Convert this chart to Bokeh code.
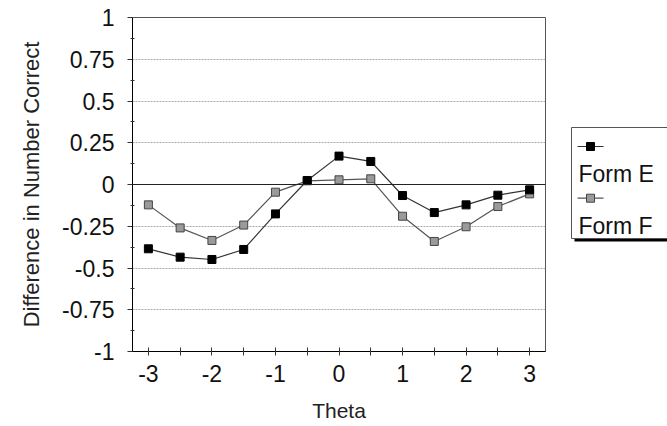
from bokeh.plotting import figure
from bokeh.models import FixedTicker, Range1d, Span, ColumnDataSource
from bokeh.layouts import row
from bokeh.embed import file_html
from bokeh.resources import INLINE
from bokeh.core.properties import value

# ---- data ----
theta = [-3.0, -2.5, -2.0, -1.5, -1.0, -0.5, 0.0, 0.5, 1.0, 1.5, 2.0, 2.5, 3.0]
form_e = [-0.385, -0.435, -0.449, -0.389, -0.176, 0.024, 0.170, 0.138, -0.066, -0.168, -0.122, -0.064, -0.032]
form_f = [-0.122, -0.260, -0.335, -0.243, -0.046, 0.022, 0.028, 0.034, -0.190, -0.341, -0.253, -0.132, -0.056]
series_names = ["Form E", "Form F"]

y_ticks = [-1, -0.75, -0.5, -0.25, 0, 0.25, 0.5, 0.75, 1]
y_tick_labels = ["-1", "-0.75", "-0.5", "-0.25", "0", "0.25", "0.5", "0.75", "1"]
y_minor = [-0.875, -0.625, -0.375, -0.125, 0.125, 0.375, 0.625, 0.875]
x_ticks = [-3, -2, -1, 0, 1, 2, 3]
x_tick_labels = ["-3", "-2", "-1", "0", "1", "2", "3"]
x_minor = [-2.5, -1.5, -0.5, 0.5, 1.5, 2.5]
grid_ticks = [-0.75, -0.5, -0.25, 0.25, 0.5, 0.75]

FONT = "Liberation Sans"
TOP, FRAME_H, BOTTOM = 17, 334, 75

p = figure(frame_width=413, frame_height=FRAME_H,
           min_border_left=132, min_border_right=15, min_border_top=TOP, min_border_bottom=BOTTOM,
           x_range=Range1d(-3.25, 3.25), y_range=Range1d(-1, 1),
           output_backend="svg", toolbar_location=None)
p.background_fill_color = "white"
p.border_fill_color = "white"
p.outline_line_color = "#555555"
p.outline_line_width = 1

# axes
p.yaxis.ticker = FixedTicker(ticks=y_ticks, minor_ticks=y_minor)
p.yaxis.major_label_overrides = {t: l for t, l in zip(y_ticks, y_tick_labels)}
p.xaxis.ticker = FixedTicker(ticks=x_ticks, minor_ticks=x_minor)
p.xaxis.major_label_overrides = {t: l for t, l in zip(x_ticks, x_tick_labels)}

for ax in (p.xaxis[0], p.yaxis[0]):
    ax.axis_line_color = "black"
    ax.axis_line_width = 1
    ax.major_tick_line_color = "#333333"
    ax.minor_tick_line_color = "#333333"
    ax.major_label_text_font = FONT
    ax.axis_label_text_font = FONT
    ax.axis_label_text_font_style = "normal"
    ax.axis_label_text_color = "#222222"
    ax.major_label_text_color = "#111111"

p.yaxis.major_tick_in = 0
p.yaxis.major_tick_out = 5
p.yaxis.minor_tick_in = 2
p.yaxis.minor_tick_out = 2
p.yaxis.major_label_text_font_size = "23px"
p.yaxis.major_label_standoff = 13
p.yaxis.axis_label = "Difference in Number Correct"
p.yaxis.axis_label_text_font_size = "22px"
p.yaxis.axis_label_standoff = 15

p.xaxis.major_tick_in = 4
p.xaxis.major_tick_out = 4
p.xaxis.minor_tick_in = 4
p.xaxis.minor_tick_out = 4
p.xaxis.major_label_text_font_size = "23px"
p.xaxis.major_label_standoff = 9
p.xaxis.axis_label = "Theta"
p.xaxis.axis_label_text_font_size = "21px"
p.xaxis.axis_label_standoff = 14

# grid
p.xgrid.visible = False
p.ygrid.ticker = FixedTicker(ticks=grid_ticks)
p.ygrid.grid_line_color = "#a8a8a8"
p.ygrid.grid_line_dash = "2 1"
p.ygrid.grid_line_width = 1

p.add_layout(Span(location=0, dimension="width", line_color="#222222", line_width=1))

src = ColumnDataSource(dict(theta=theta, e=form_e, f=form_f))
p.line("theta", "f", source=src, line_color="#555555", line_width=1.2)
p.scatter("theta", "f", source=src, marker="square", size=8,
          fill_color="#9a9a9a", line_color="#444444", line_width=1)
p.line("theta", "e", source=src, line_color="#333333", line_width=1.2)
p.scatter("theta", "e", source=src, marker="square", size=8,
          fill_color="black", line_color="black", line_width=1)

# ---- legend panel: its own small figure whose frame lines up with the plot frame;
# ranges are in page pixels so the legend layout can be placed directly ----
q = figure(frame_width=107, frame_height=FRAME_H,
           min_border_left=0, min_border_right=0, min_border_top=TOP, min_border_bottom=BOTTOM,
           x_range=Range1d(560, 667), y_range=Range1d(TOP + FRAME_H, TOP),
           x_axis_type=None, y_axis_type=None,
           output_backend="svg", toolbar_location=None)
q.outline_line_color = None
q.grid.visible = False
q.background_fill_color = "white"
q.border_fill_color = "white"

# shadow then box
q.quad(left=[574], right=[700], top=[130], bottom=[241], fill_color="black", line_color=None)
q.quad(left=[571], right=[700], top=[127], bottom=[238], fill_color="white",
       line_color="#555555", line_width=1)

styles = [dict(fill="black", line="black", ln="#333333"),
          dict(fill="#9a9a9a", line="#444444", ln="#555555")]
glyph_y = [146, 197.7]
label_y = [173.5, 225]
for name, st, gy, ly in zip(series_names, styles, glyph_y, label_y):
    q.line([577, 603], [gy, gy], line_color=st["ln"], line_width=1.2)
    q.scatter([590], [gy], marker="square", size=8, fill_color=st["fill"], line_color=st["line"])
    q.text([578], [ly], text=[name], text_font=value(FONT), text_font_size="23px",
           text_baseline="alphabetic", text_align="left", text_color="#111111")

layout = row(p, q)
open("out.html", "w").write(file_html(layout, INLINE))
